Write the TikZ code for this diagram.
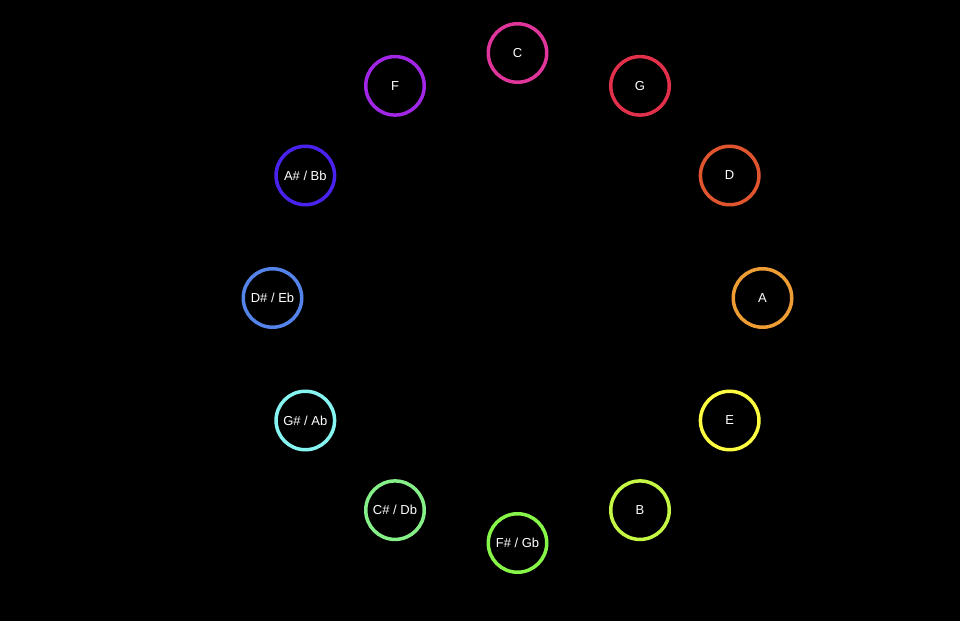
\documentclass[tikz,border=0pt]{standalone}
\usepackage{fontspec}
\setmainfont{Liberation Sans}
\usepackage{tikz}
\usetikzlibrary{calc,positioning}
\definecolor{noteC}{HTML}{E0359A}
\definecolor{noteG}{HTML}{E2304A}
\definecolor{noteD}{HTML}{E0552E}
\definecolor{noteA}{HTML}{EE9C34}
\definecolor{noteE}{HTML}{FCFC40}
\definecolor{noteB}{HTML}{C4F845}
\definecolor{noteFs}{HTML}{86F648}
\definecolor{noteCs}{HTML}{86F088}
\definecolor{noteGs}{HTML}{86F4F0}
\definecolor{noteDs}{HTML}{5484EA}
\definecolor{noteAs}{HTML}{4A22EE}
\definecolor{noteF}{HTML}{A126E6}
\tikzstyle{note}=[circle, draw, minimum size=58.5pt,
                  line width=3.5pt, inner sep=0pt,
                  text=white, font=\fontsize{13}{15}\selectfont]

\begin{document}
\begin{tikzpicture}[x=1pt, y=1pt]
    \fill[black] (0,0) rectangle (960,621);
    \useasboundingbox (0,0) rectangle (960,621);
    \coordinate (mid) at (517.5,323);
        \foreach \i/\n/\lbl/\col in {0/C/C/noteC, 1/G/G/noteG, 2/D/D/noteD,
                3/A/A/noteA, 4/E/E/noteE, 5/B/B/noteB, 6/Fs/{F\# / Gb}/noteFs,
                7/Cs/{C\# / Db}/noteCs, 8/Gs/{G\# / Ab}/noteGs, 9/Ds/{D\# / Eb}/noteDs,
                10/As/{A\# / Bb}/noteAs, 11/F/F/noteF}
            \node[note, draw=\col] (\n) at ($(mid)+({90-30*\i}:245)$) {\lbl};
\end{tikzpicture}
\end{document}
